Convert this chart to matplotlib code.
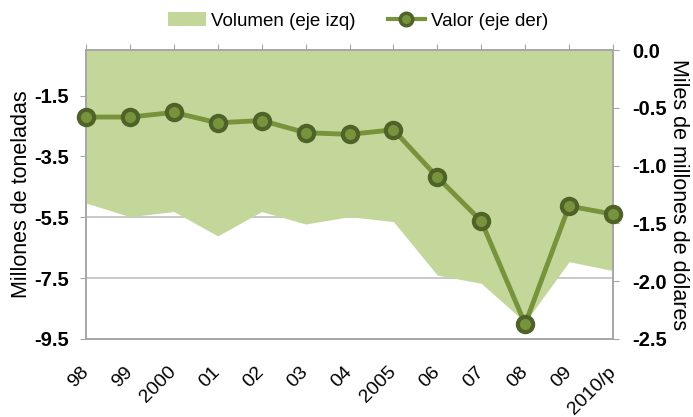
import matplotlib
matplotlib.use("Agg")
import matplotlib.pyplot as plt
from matplotlib.patches import Patch
from matplotlib.lines import Line2D

plt.rcParams['font.family'] = ['Liberation Sans', 'DejaVu Sans']

years = ["98", "99", "2000", "01", "02", "03", "04", "2005", "06", "07", "08", "09", "2010/p"]
volumen = [-5.03, -5.48, -5.31, -6.11, -5.31, -5.72, -5.48, -5.64, -7.40, -7.67, -8.95, -6.96, -7.25]
valor = [-0.58, -0.58, -0.54, -0.63, -0.61, -0.715, -0.73, -0.69, -1.10, -1.48, -2.37, -1.35, -1.42]
left_ticks = [-9.5, -7.5, -5.5, -3.5, -1.5]
right_ticks = [-2.5, -2.0, -1.5, -1.0, -0.5, 0.0]

area_color = "#C4D79B"
line_color = "#77933C"
edge_color = "#4F6228"
grey = "#A6A6A6"

fig = plt.figure(figsize=(6.93, 4.17), dpi=100)
ax = fig.add_axes([86/693, 1-339/417, (613-86)/693, (339-50)/417])
x = list(range(len(years)))

ax.fill_between(x, 0, volumen, color=area_color, linewidth=0, zorder=1)
ax.set_xlim(0, len(years)-1)
ax.set_ylim(-9.5, 0)
ax.set_yticks(left_ticks)
ax.set_yticklabels([f"{t:.1f}" for t in left_ticks], fontweight='bold', fontsize=14.5)
ax.set_axisbelow(True)
ax.yaxis.grid(True, color="#C0C0C0", linewidth=1.2)
ax.set_xticks(x)
ax.set_xticklabels(years, rotation=45, ha='right', va='center', rotation_mode='anchor', fontsize=14)
ax.tick_params(axis='x', top=True, bottom=False, labeltop=False, labelbottom=True,
               direction='out', length=4, color=grey, pad=18)
ax.tick_params(axis='y', direction='out', length=4, color=grey, pad=8)
for s in ax.spines.values():
    s.set_color(grey)
    s.set_linewidth(1.2)
ax.set_ylabel("Millones de toneladas", fontsize=15.5, labelpad=2)

ax2 = ax.twinx()
ax2.plot(x, valor, color=line_color, linewidth=3.5, marker='o', markersize=11,
         markerfacecolor=line_color, markeredgecolor=edge_color, markeredgewidth=3, zorder=3, clip_on=False)
ax2.set_ylim(-2.5, 0)
ax2.set_yticks(right_ticks)
ax2.set_yticklabels([f"{t:.1f}" for t in right_ticks], fontweight='bold', fontsize=14.5)
ax2.tick_params(axis='y', direction='out', length=4, color=grey, pad=10)
for s in ax2.spines.values():
    s.set_color(grey)
    s.set_linewidth(1.2)
ax2.set_ylabel("Miles de millones de dólares", fontsize=15.5, rotation=-90, labelpad=16)

handles = [Patch(facecolor=area_color, edgecolor='none'),
           Line2D([0], [0], color=line_color, linewidth=3, marker='o', markersize=9,
                  markerfacecolor=line_color, markeredgecolor=edge_color, markeredgewidth=2.5)]
fig.legend(handles, ["Volumen (eje izq)", "Valor (eje der)"], loc='center', bbox_to_anchor=(358/693, 1-21/417),
           ncol=2, frameon=False, fontsize=13.5, handlelength=2.0, handleheight=0.7,
           columnspacing=1.7, handletextpad=0.3)

fig.savefig("out.png", dpi=100)
